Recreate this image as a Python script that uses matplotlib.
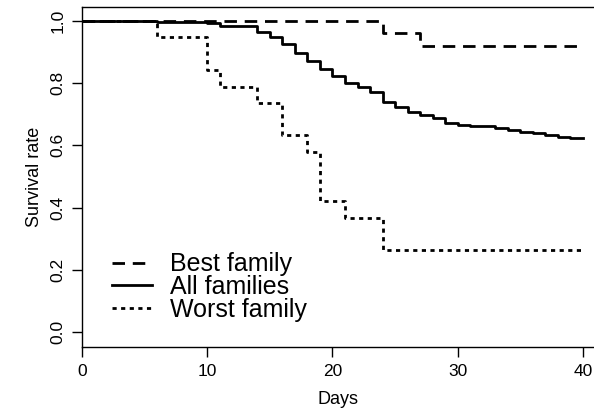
import matplotlib
matplotlib.use("Agg")
import matplotlib.pyplot as plt

plt.rcParams["font.family"] = ["Liberation Sans", "DejaVu Sans"]

# Kaplan-Meier style step curves (value holds from t onward)
best_t = [0, 24, 27, 40]
best_s = [1.0, 0.96, 0.92, 0.92]

all_t = [0, 6, 10, 11, 14, 15, 16, 17, 18, 19, 20, 21, 22, 23, 24, 25, 26, 27,
         28, 29, 30, 31, 33, 34, 35, 36, 37, 38, 39, 40]
all_s = [1.0, 0.998, 0.992, 0.984, 0.966, 0.948, 0.927, 0.898, 0.872, 0.845,
         0.823, 0.802, 0.787, 0.773, 0.741, 0.724, 0.706, 0.698, 0.687, 0.673,
         0.666, 0.662, 0.655, 0.650, 0.644, 0.639, 0.633, 0.628, 0.624, 0.624]

worst_t = [0, 6, 10, 11, 14, 16, 18, 19, 21, 24, 40]
worst_s = [1.0, 0.947, 0.842, 0.789, 0.737, 0.632, 0.579, 0.421, 0.368, 0.263, 0.263]

x_ticks = [0, 10, 20, 30, 40]
y_ticks = [0.0, 0.2, 0.4, 0.6, 0.8, 1.0]

fig = plt.figure(figsize=(5.94, 4.09), dpi=100)
ax = fig.add_axes([82 / 594, 1 - 347 / 409, 1 - 82 / 594, 340 / 409])

lw = 2.0
ax.step(best_t, best_s, where="post", color="black", lw=lw,
        linestyle=(0, (4.5, 2.8)), label="Best family")
ax.step(all_t, all_s, where="post", color="black", lw=lw, label="All families")
ax.step(worst_t, worst_s, where="post", color="black", lw=lw,
        linestyle=(0, (1.5, 1.6)), label="Worst family")

ax.set_xlim(0, 40.88)
ax.set_ylim(-0.048, 1.045)
ax.set_xticks(x_ticks)
ax.set_yticks(y_ticks)
ax.set_xticklabels([str(v) for v in x_ticks])
ax.set_yticklabels([f"{v:.1f}" for v in y_ticks], rotation=90, va="center")
ax.tick_params(direction="out", length=7, width=1, labelsize=12.5, pad=5)
ax.spines["right"].set_visible(False)
for s in ["left", "top", "bottom"]:
    ax.spines[s].set_linewidth(1)
ax.set_xlabel("Days", fontsize=13, labelpad=9)
ax.set_ylabel("Survival rate", fontsize=13, labelpad=5)

ax.legend(loc="lower left", bbox_to_anchor=(0.035, 0.037), frameon=False,
          fontsize=18, handlelength=1.6, handletextpad=0.7,
          labelspacing=-0.05, borderpad=0)

fig.savefig("out.png", dpi=100)
